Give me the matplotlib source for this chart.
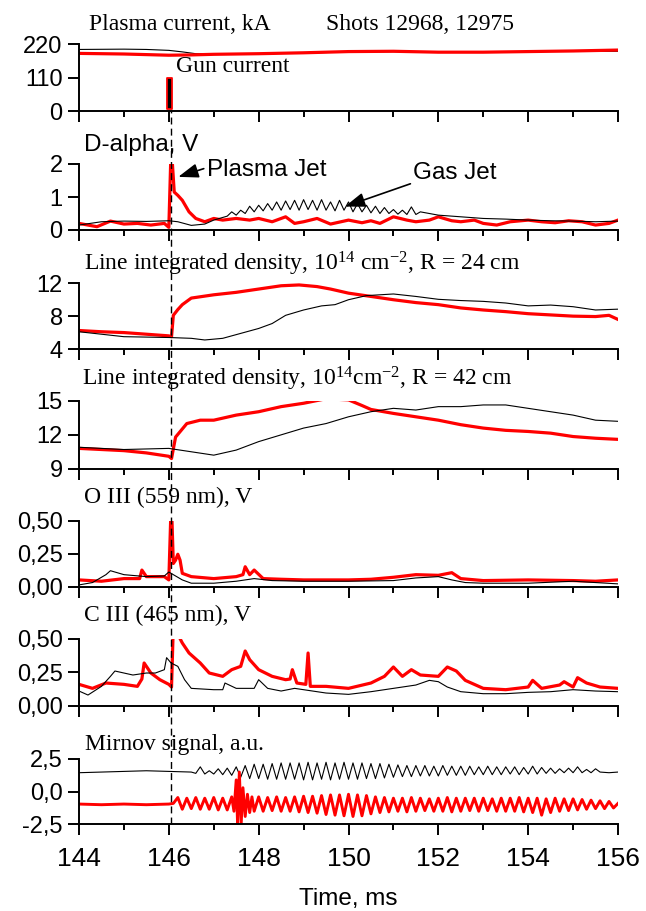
import numpy as np
import matplotlib
matplotlib.use("Agg")
import matplotlib.pyplot as plt
from matplotlib.lines import Line2D
from matplotlib.transforms import blended_transform_factory

plt.rcParams['font.family'] = 'Liberation Sans'
plt.rcParams['mathtext.fontset'] = 'custom'
plt.rcParams['mathtext.rm'] = 'Liberation Serif'
plt.rcParams['mathtext.it'] = 'Liberation Serif:italic'

ROJO = '#ff0000'

# Datos (tiempo en ms, valor)
# 1. corriente de plasma, kA
ip_negro = [(144, 203), (145, 204), (145.5, 203), (146, 200), (146.3, 195), (146.6, 189),
            (147, 188), (148, 189), (149, 191), (150, 195), (151, 196), (152, 195),
            (153, 195), (154, 196), (155, 197), (156, 197)]
ip_rojo = [(144, 190), (145, 188), (146, 184), (146.5, 185), (147, 187), (148, 189),
           (149, 192), (150, 196), (151, 197), (152, 194), (153, 194), (154, 196),
           (155, 198), (156, 201)]
gun_t = [145.95, 146.075]
gun_i = [8, 110]
t_gun = 146.05

# 2. D-alpha, V
da_rojo = [(144, 0.2), (144.2, 0.15), (144.4, 0.1), (144.7, 0.27), (145.0, 0.18), (145.3, 0.2),
           (145.6, 0.15), (145.9, 0.2), (146.0, 0.08), (146.04, 2.0), (146.08, 2.0), (146.12, 1.15),
           (146.2, 1.05), (146.3, 0.9), (146.45, 0.55), (146.6, 0.35), (146.8, 0.25), (147.0, 0.35),
           (147.2, 0.3), (147.5, 0.35), (147.8, 0.3), (148.0, 0.35), (148.3, 0.25), (148.6, 0.4),
           (148.8, 0.2), (149.0, 0.25), (149.3, 0.35), (149.6, 0.18), (150.0, 0.3), (150.3, 0.22),
           (150.5, 0.28), (150.7, 0.2), (151.0, 0.4), (151.3, 0.3), (151.5, 0.25), (151.8, 0.3),
           (152.0, 0.4), (152.3, 0.28), (152.5, 0.25), (152.8, 0.3), (153.0, 0.2), (153.3, 0.15),
           (153.6, 0.25), (154.0, 0.3), (154.3, 0.25), (154.6, 0.22), (154.9, 0.28), (155.2, 0.25),
           (155.5, 0.15), (155.8, 0.2), (156.0, 0.3)]
da_negro_ini = [(144, 0.15), (144.5, 0.25), (145, 0.27), (145.5, 0.26), (146, 0.28), (146.2, 0.25),
                (146.5, 0.14), (146.8, 0.18), (147.0, 0.3), (147.2, 0.38)]
da_negro_picos = [0.42, 0.55, 0.45, 0.6, 0.5, 0.72, 0.55, 0.75, 0.58, 0.8,
                  0.6, 0.85, 0.6, 0.88, 0.62, 0.9, 0.6, 0.92, 0.62, 0.9,
                  0.6, 0.92, 0.6, 0.85, 0.58, 0.9, 0.6, 0.85, 0.55, 0.8,
                  0.55, 0.75, 0.52, 0.72, 0.5, 0.68, 0.5, 0.62, 0.48, 0.6,
                  0.47, 0.7, 0.47, 0.55]
da_negro_fin = [(152.0, 0.45), (152.5, 0.4), (153.0, 0.35), (153.5, 0.33), (154.0, 0.3),
                (154.5, 0.28), (155.0, 0.27), (155.5, 0.25), (156.0, 0.27)]

# 3. densidad, R = 24 cm
n24_rojo = [(144, 6.25), (144.5, 6.1), (145, 6.0), (145.5, 5.8), (146, 5.6), (146.06, 5.5),
            (146.1, 8.1), (146.2, 8.8), (146.3, 9.4), (146.5, 10.2), (147, 10.6), (147.5, 10.9),
            (148, 11.3), (148.5, 11.7), (148.9, 11.8), (149.3, 11.6), (149.6, 11.3), (150, 10.8),
            (150.5, 10.4), (151, 10.0), (151.5, 9.65), (152, 9.4), (152.5, 9.0), (153, 8.75),
            (153.5, 8.55), (154, 8.3), (154.5, 8.15), (155, 8.0), (155.5, 7.95), (155.8, 8.1),
            (156, 7.6)]
n24_negro = [(144, 6.1), (144.5, 5.8), (145, 5.5), (146, 5.4), (146.5, 5.3), (146.8, 5.1),
             (147.2, 5.3), (147.6, 5.9), (148, 6.5), (148.3, 7.1), (148.6, 8.1), (149, 8.75),
             (149.4, 9.25), (149.7, 9.4), (150, 10.0), (150.4, 10.5), (151, 10.7), (151.5, 10.4),
             (152, 10.05), (152.5, 9.9), (153, 9.8), (153.5, 9.6), (154, 9.25), (154.5, 9.35),
             (155, 9.15), (155.5, 8.75), (156, 8.85)]

# 4. densidad, R = 42 cm
n42_rojo = [(144, 10.8), (145, 10.6), (145.5, 10.4), (146, 10.1), (146.06, 9.9), (146.15, 11.8),
            (146.4, 13.0), (146.7, 13.3), (147, 13.3), (147.5, 13.75), (148, 14.05), (148.5, 14.5),
            (149, 14.8), (149.5, 15.2), (150, 15.1), (150.3, 14.6), (150.5, 14.25), (151, 13.9),
            (151.5, 13.6), (152, 13.3), (152.5, 12.9), (153, 12.6), (153.5, 12.4), (154, 12.3),
            (154.5, 12.15), (155, 11.85), (155.5, 11.7), (156, 11.6)]
n42_negro = [(144, 10.9), (145, 10.7), (146, 10.8), (146.5, 10.5), (147, 10.2), (147.5, 10.65),
             (148, 11.4), (148.5, 12.0), (149, 12.6), (149.5, 13.0), (150, 13.6), (150.5, 14.05),
             (151, 14.35), (151.5, 14.2), (152, 14.5), (152.5, 14.5), (153, 14.65), (153.5, 14.65),
             (154, 14.35), (154.5, 14.05), (155, 13.75), (155.5, 13.3), (156, 13.2)]

# 5. O III (559 nm), V
o3_rojo = [(144, 0.05), (144.5, 0.04), (145, 0.06), (145.35, 0.06), (145.4, 0.125), (145.5, 0.075),
           (145.9, 0.075), (146.0, 0.05), (146.04, 0.5), (146.07, 0.5), (146.1, 0.175), (146.15, 0.2),
           (146.2, 0.245), (146.25, 0.2), (146.3, 0.1), (146.5, 0.075), (147, 0.06), (147.5, 0.075),
           (147.65, 0.09), (147.7, 0.15), (147.8, 0.09), (147.9, 0.125), (148.1, 0.06), (148.5, 0.055),
           (149, 0.05), (150, 0.05), (150.5, 0.055), (151, 0.07), (151.5, 0.09), (152, 0.085),
           (152.3, 0.105), (152.5, 0.06), (153, 0.045), (154, 0.05), (155, 0.045), (155.5, 0.04),
           (156, 0.05)]
o3_negro = [(144, 0.012), (144.3, 0.03), (144.6, 0.09), (144.7, 0.12), (145, 0.09), (145.5, 0.075),
            (145.9, 0.08), (146.0, 0.11), (146.1, 0.09), (146.3, 0.05), (146.5, 0.025), (147, 0.025),
            (147.5, 0.04), (147.9, 0.06), (148.3, 0.045), (149, 0.04), (150, 0.04), (151, 0.045),
            (151.5, 0.065), (152, 0.075), (152.3, 0.05), (152.6, 0.03), (153, 0.025), (154, 0.025),
            (155, 0.04), (156, 0.02)]

# 6. C III (465 nm), V
c3_rojo = [(144, 0.16), (144.3, 0.13), (144.6, 0.17), (145, 0.16), (145.3, 0.145), (145.4, 0.2),
           (145.45, 0.32), (145.6, 0.245), (145.8, 0.195), (146.0, 0.16), (146.06, 0.14), (146.1, 0.6),
           (146.3, 0.47), (146.45, 0.395), (146.7, 0.32), (146.9, 0.245), (147.2, 0.22), (147.4, 0.27),
           (147.6, 0.295), (147.7, 0.41), (147.8, 0.345), (148, 0.27), (148.3, 0.22), (148.6, 0.195),
           (148.7, 0.2), (148.75, 0.27), (148.85, 0.17), (149.05, 0.16), (149.1, 0.395), (149.15, 0.145),
           (149.5, 0.145), (150, 0.13), (150.5, 0.17), (150.8, 0.22), (151, 0.29), (151.2, 0.22),
           (151.4, 0.27), (151.6, 0.23), (152, 0.22), (152.2, 0.29), (152.4, 0.26), (152.6, 0.19),
           (153, 0.13), (153.5, 0.12), (154, 0.14), (154.1, 0.19), (154.3, 0.13), (154.7, 0.155),
           (154.8, 0.18), (155, 0.14), (155.1, 0.21), (155.3, 0.17), (155.6, 0.14), (156, 0.13)]
c3_negro = [(144, 0.11), (144.2, 0.08), (144.5, 0.145), (144.7, 0.22), (144.8, 0.26), (145.2, 0.23),
            (145.5, 0.245), (145.7, 0.245), (145.9, 0.27), (145.95, 0.36), (146.05, 0.32), (146.2, 0.295),
            (146.35, 0.195), (146.5, 0.13), (147, 0.12), (147.2, 0.12), (147.25, 0.17), (147.5, 0.13),
            (147.9, 0.13), (148, 0.195), (148.2, 0.13), (148.5, 0.11), (148.8, 0.13), (149, 0.12),
            (149.5, 0.095), (150, 0.085), (150.5, 0.105), (151, 0.13), (151.5, 0.155), (151.8, 0.19),
            (152, 0.18), (152.2, 0.14), (152.5, 0.105), (153, 0.09), (153.5, 0.09), (154, 0.1),
            (154.5, 0.105), (155, 0.12), (155.5, 0.11), (156, 0.105)]

# 7. senal Mirnov, u.a.  (oscilaciones: maximos y minimos cada 0.1 ms)
mir_negro_ini = [(144, 1.45), (144.5, 1.5), (145, 1.55), (145.5, 1.6), (146, 1.55), (146.5, 1.5)]
mir_negro_osc = [1.4, 1.9, 1.35, 1.6, 1.35, 1.75, 1.3, 1.8, 1.25, 1.9,
                 1.1, 2.0, 1.0, 2.1, 1.0, 2.1, 0.95, 2.15, 0.95, 2.2,
                 0.95, 2.2, 0.95, 2.2, 0.9, 2.25, 0.9, 2.2, 0.95, 2.25,
                 0.9, 2.2, 0.95, 2.25, 0.95, 2.2, 0.95, 2.2, 1.0, 2.15,
                 1.0, 2.15, 1.05, 2.1, 1.1, 2.05, 1.15, 2.0, 1.15, 2.0,
                 1.2, 2.0, 1.2, 1.95, 1.2, 2.0, 1.25, 1.95, 1.25, 1.95,
                 1.25, 1.95, 1.3, 1.9, 1.3, 1.95, 1.3, 1.9, 1.3, 1.9,
                 1.35, 1.9, 1.3, 1.85, 1.35, 1.95, 1.35, 1.85, 1.4, 1.8,
                 1.4, 1.75, 1.45, 1.8, 1.45, 1.9, 1.45, 1.7, 1.45, 1.75,
                 1.5]
mir_negro_fin = [(155.8, 1.45), (156, 1.5)]

mir_rojo_ini = [(144, -0.95), (144.5, -1.0), (145, -0.95), (145.5, -1.0), (146, -0.95), (146.1, -0.9)]
mir_rojo_osc1 = [-0.45, -1.35, -0.5, -1.3, -0.45, -1.35, -0.5, -1.35, -0.45, -1.4, -0.5, -1.4, -0.4]
mir_rojo_burst = [(147.45, -1.5), (147.5, 0.9), (147.53, -2.4), (147.57, 1.5), (147.61, -2.5),
                  (147.65, 0.3), (147.7, -1.9), (147.75, -0.2), (147.8, -1.6), (147.85, -0.4),
                  (147.9, -1.5)]
mir_rojo_osc2 = [-0.4, -1.5, -0.45, -1.45, -0.4, -1.5, -0.45, -1.5, -0.4, -1.55,
                 -0.35, -1.6, -0.35, -1.65, -0.3, -1.75, -0.25, -1.8, -0.25, -1.85,
                 -0.2, -1.9, -0.25, -1.85, -0.3, -1.7, -0.4, -1.6, -0.45, -1.55,
                 -0.5, -1.5, -0.5, -1.55, -0.45, -1.5, -0.5, -1.45, -0.55, -1.5,
                 -0.5, -1.5, -0.45, -1.55, -0.5, -1.5, -0.5, -1.45, -0.5, -1.5,
                 -0.5, -1.45, -0.55, -1.5, -0.5, -1.5, -0.5, -1.5, -0.45, -1.55,
                 -0.5, -1.6, -0.5, -1.8, -0.55, -1.6, -0.5, -1.5, -0.55, -1.45,
                 -0.55, -1.4, -0.6, -1.35, -0.65, -1.3, -0.7, -1.3, -0.75, -1.25]
mir_rojo_fin = [(156, -0.9)]


def separar(pares):
    t, v = zip(*pares)
    return np.array(t), np.array(v)


def unir(*partes):
    t = np.concatenate([p[0] for p in partes])
    v = np.concatenate([p[1] for p in partes])
    return t, v


W, H = 646, 911
fig = plt.figure(figsize=(W / 100, H / 100), dpi=100)

# limites de cada panel en pixeles (arriba, abajo)
paneles = [(44.3, 111), (164, 230), (283.3, 349), (401, 468.7),
           (520.7, 586.5), (639, 705.7), (759, 824.3)]
ylims = [(0, 220), (0, 2), (4, 12), (9, 15), (0, 0.5), (0, 0.5), (-2.5, 2.5)]
yticks = [[0, 110, 220], [0, 1, 2], [4, 8, 12], [9, 12, 15],
          [0, 0.25, 0.5], [0, 0.25, 0.5], [-2.5, 0, 2.5]]
yticklabels = [['0', '110', '220'], ['0', '1', '2'], ['4', '8', '12'], ['9', '12', '15'],
               ['0,00', '0,25', '0,50'], ['0,00', '0,25', '0,50'], ['-2,5', '0,0', '2,5']]

axs = []
for i, (arriba, abajo) in enumerate(paneles):
    ax = fig.add_axes([79 / W, 1 - abajo / H, 539 / W, (abajo - arriba) / H])
    ax.set_xlim(144, 156)
    ax.set_ylim(*ylims[i])
    ax.patch.set_visible(False)
    for lado in ['top', 'right']:
        ax.spines[lado].set_visible(False)
    for lado in ['left', 'bottom']:
        ax.spines[lado].set_linewidth(1.4)
    ax.set_xticks(range(144, 157, 2))
    ax.set_xticks(range(145, 156, 2), minor=True)
    ax.set_yticks(yticks[i], yticklabels[i])
    ax.tick_params(axis='x', which='major', direction='out', length=8, width=1.4,
                   labelbottom=(i == 6), labelsize=19, pad=8)
    ax.tick_params(axis='x', which='minor', direction='out', length=4.3, width=1.4)
    ax.tick_params(axis='y', direction='out', length=7.7, width=1.4, labelsize=17, pad=4)
    axs.append(ax)

lw_r, lw_n = 2.3, 0.8

# panel 1
ax = axs[0]
ax.plot(*separar(ip_negro), color='black', lw=lw_n)
ax.plot(*separar(ip_rojo), color=ROJO, lw=lw_r)
ax.fill_between(gun_t, gun_i[0], gun_i[1], facecolor='black', edgecolor=ROJO, lw=1.3)

# panel 2
ax = axs[1]
ax.plot(*separar(da_rojo), color=ROJO, lw=lw_r)
t_picos = np.linspace(147.3, 151.6, len(da_negro_picos))
ax.plot(*unir(separar(da_negro_ini), (t_picos, np.array(da_negro_picos)), separar(da_negro_fin)),
        color='black', lw=lw_n)
flecha = dict(arrowstyle='-|>,head_length=0.7,head_width=0.25', color='black', lw=1.2,
              shrinkA=0, shrinkB=0)
ax.annotate('Plasma Jet', xy=(146.21, 1.61), xytext=(146.84, 1.82), fontsize=17.5,
            va='center', ha='left', arrowprops=dict(flecha, relpos=(0, 0.6)))
ax.annotate('Gas Jet', xy=(149.92, 0.71), xytext=(151.44, 1.73), fontsize=17.5,
            va='center', ha='left', arrowprops=dict(flecha, relpos=(0, 0.05)))

# paneles 3-6
for ax, rojo, negro in [(axs[2], n24_rojo, n24_negro), (axs[3], n42_rojo, n42_negro),
                        (axs[4], o3_rojo, o3_negro), (axs[5], c3_rojo, c3_negro)]:
    ax.plot(*separar(rojo), color=ROJO, lw=lw_r)
    ax.plot(*separar(negro), color='black', lw=lw_n)

# panel 7
ax = axs[6]
t_osc_n = np.linspace(146.6, 155.6, len(mir_negro_osc))
ax.plot(*unir(separar(mir_negro_ini), (t_osc_n, np.array(mir_negro_osc)), separar(mir_negro_fin)),
        color='black', lw=lw_n)
t_osc1 = np.linspace(146.2, 147.4, len(mir_rojo_osc1))
t_osc2 = np.linspace(148.0, 155.9, len(mir_rojo_osc2))
ax.plot(*unir(separar(mir_rojo_ini), (t_osc1, np.array(mir_rojo_osc1)), separar(mir_rojo_burst),
              (t_osc2, np.array(mir_rojo_osc2)), separar(mir_rojo_fin)),
        color=ROJO, lw=2.1)

# linea de trazos del disparo del canon
tr = blended_transform_factory(axs[6].transData, fig.transFigure)
y_abajo = axs[6].get_position().y0
y_arriba = axs[0].get_position().y0
fig.add_artist(Line2D([t_gun, t_gun], [y_abajo, y_arriba], transform=tr, color='black',
                      lw=1.0, linestyle=(0, (5, 3))))

# titulos (x, linea base en pixeles)
serif = 'Liberation Serif'
titulos = [('Plasma current, kA', 89, 30, serif),
           ('Shots 12968, 12975', 326, 30, serif),
           ('Gun current', 176, 72, serif),
           ('D-alpha, V', 84, 151, 'Liberation Sans'),
           (r'Line integrated density, 10$^{14}$ cm$^{-2}$, R = 24 cm', 84, 270, serif),
           (r'Line integrated density, 10$^{14}$cm$^{-2}$, R = 42 cm', 82, 386, serif),
           ('O III (559 nm), V', 84, 503, serif),
           ('C III (465 nm), V', 84, 621, serif),
           ('Mirnov signal, a.u.', 85, 750, serif)]
for texto, x, y, fam in titulos:
    fs = 17 if fam == serif else 17.5
    fig.text(x / W, 1 - y / H, texto, family=fam, fontsize=fs, ha='left', va='baseline')

fig.text(348 / W, 1 - 905 / H, 'Time, ms', fontsize=17.5, ha='center', va='baseline')

fig.savefig('out.png', dpi=100)
